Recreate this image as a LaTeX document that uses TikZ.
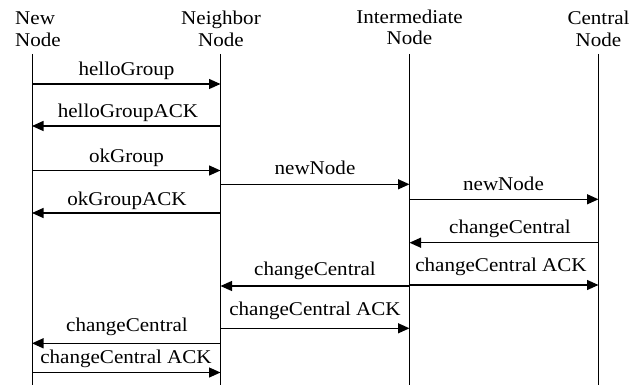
\documentclass[tikz,border=0pt]{standalone}
\usepackage{fontspec}
\setmainfont{Liberation Serif}[FakeStretch=1.08]
\usetikzlibrary{arrows.meta}
\begin{document}
\begin{tikzpicture}[x=1pt,y=-1pt,
  lifeline/.style={line width=1pt},
  msg/.style={line width=1.3pt,-{Triangle[length=11.5pt,width=10pt]}},
  lbl/.style={anchor=base,inner sep=0pt,font=\fontsize{19.5}{22}\selectfont},
  hdr/.style={anchor=base,inner sep=0pt,font=\fontsize{19.5}{21.7}\selectfont}]
\useasboundingbox (0,0) rectangle (643,385);
% headers (base anchor = baseline of last line)
\node[hdr,anchor=base west,align=left] (hNew) at (15,46.7) {New\\Node};
\node[hdr,align=center] (hNb) at (221,46.7) {Neighbor\\Node};
\node[hdr,align=center] (hIn) at (409.5,45) {Intermediate\\Node};
\node[hdr,align=center] (hCe) at (598.5,46.7) {Central\\Node};
% lifelines
\coordinate (A) at (32,54);   \coordinate (Ab) at (32,385);
\coordinate (B) at (220.5,54); \coordinate (Bb) at (220.5,385);
\coordinate (C) at (409.5,54); \coordinate (Cb) at (409.5,385);
\coordinate (D) at (598.5,54); \coordinate (Db) at (598.5,385);
\draw[lifeline] (A) -- (Ab);
\draw[lifeline] (B) -- (Bb);
\draw[lifeline] (C) -- (Cb);
\draw[lifeline] (D) -- (Db);
% messages
\draw[msg] (A |- 0,84) -- (B |- 0,84);
\node[lbl] (m1) at (126.5,76) {helloGroup};
\draw[msg] (B |- 0,126) -- (A |- 0,126);
\node[lbl] (m2) at (128,118) {helloGroupACK};
\draw[msg] (A |- 0,170.5) -- (B |- 0,170.5);
\node[lbl] (m3) at (126.5,163) {okGroup};
\draw[msg] (B |- 0,184.3) -- (C |- 0,184.3);
\node[lbl] (m4) at (315,174.5) {newNode};
\draw[msg] (B |- 0,213) -- (A |- 0,213);
\node[lbl] (m5) at (127,206) {okGroupACK};
\draw[msg] (C |- 0,199.3) -- (D |- 0,199.3);
\node[lbl] (m6) at (503.5,191) {newNode};
\draw[msg] (D |- 0,242.7) -- (C |- 0,242.7);
\node[lbl] (m7) at (510,233.5) {changeCentral};
\draw[msg] (C |- 0,286) -- (B |- 0,286);
\node[lbl] (m8) at (315,275) {changeCentral};
\draw[msg] (C |- 0,285) -- (D |- 0,285);
\node[lbl] (m9) at (501,271) {changeCentral ACK};
\draw[msg] (B |- 0,328.3) -- (C |- 0,328.3);
\node[lbl] (m10) at (315,315) {changeCentral ACK};
\draw[msg] (B |- 0,343.3) -- (A |- 0,343.3);
\node[lbl] (m11) at (127,331) {changeCentral};
\draw[msg] (A |- 0,372.5) -- (B |- 0,372.5);
\node[lbl] (m12) at (126,363) {changeCentral ACK};
\end{tikzpicture}
\end{document}
